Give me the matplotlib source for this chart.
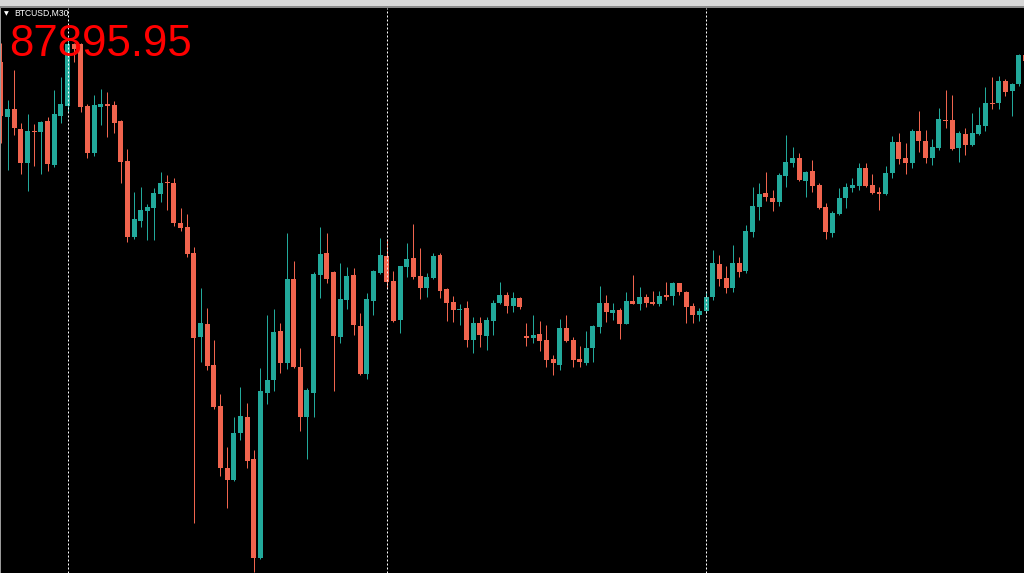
# BTCUSD M30 candlestick snapshot, MT4-style dark chart

import matplotlib
matplotlib.use("Agg")
import matplotlib.pyplot as plt
import numpy as np

# ------------ data ---------------------------------------
symbol_label = "BTCUSD,M30"
last_price = "87895.95"

opens = [87845, 87295, 87375, 87175, 86835, 87155, 87145, 87255, 86815, 87305,
         87405, 88025, 88025, 87405, 86935, 87395, 87425, 87415, 87255, 86855,
         86095, 86255, 86355, 86385, 86525, 86645, 86635, 86235, 86195, 85935,
         85095, 85225, 84815, 84405, 83785, 83665, 84135, 84295, 83875, 82885,
         84535, 84665, 85155, 84835, 85675, 84795, 84295, 84535, 85715, 85935,
         85745, 85095, 85465, 85715, 85205, 84725, 85455, 85735, 85905, 85655,
         85265, 85795, 85885, 85705, 85585, 85685, 85915, 85575, 85445, 85365,
         85385, 85065, 85235, 85105, 85255, 85435, 85515, 85405, 85485, 85105,
         85085, 85125, 85065, 84875, 84815, 85185, 85065, 84875, 84835, 84985,
         85195, 85435, 85335, 85365, 85225, 85455, 85425, 85495, 85445, 85425,
         85515, 85505, 85635, 85545, 85405, 85315, 85355, 85495, 85825, 85685,
         85585, 85835, 85755, 86145, 86395, 86535, 86485, 86445, 86705, 86835,
         86885, 86655, 86755, 86615, 86395, 86135, 86325, 86485, 86585, 86605,
         86785, 86615, 86545, 86525, 86735, 87045, 86885, 86835, 87155, 87055,
         86885, 86985, 87265, 87265, 86985, 87125, 87015, 87125, 87205, 87435,
         87435, 87655, 87555, 87625, 87915]
highs = [88035, 87465, 87765, 87235, 87325, 87225, 87255, 87295, 87565, 87695,
         88065, 88035, 88035, 87425, 87515, 87575, 87545, 87455, 87265, 86975,
         86545, 86595, 86425, 86585, 86745, 86715, 86685, 86385, 86325, 85995,
         85585, 85385, 85065, 84525, 83995, 84295, 84595, 84435, 83965, 84785,
         85315, 85375, 85235, 86135, 85855, 84985, 84585, 85745, 86195, 86135,
         85755, 85835, 85795, 85785, 85335, 85535, 85765, 86085, 86075, 85755,
         85805, 86035, 86225, 85985, 85735, 85935, 85935, 85585, 85505, 85425,
         85455, 85295, 85295, 85295, 85465, 85645, 85545, 85545, 85495, 85235,
         85315, 85255, 85215, 84915, 85275, 85315, 85095, 85005, 85155, 85215,
         85605, 85515, 85435, 85385, 85545, 85715, 85595, 85525, 85555, 85555,
         85645, 85645, 85635, 85555, 85435, 85385, 85555, 85965, 85915, 85805,
         86015, 85895, 86215, 86595, 86635, 86745, 86565, 86735, 87115, 86995,
         86935, 86755, 86865, 86635, 86435, 86355, 86585, 86635, 86685, 86835,
         86835, 86725, 86595, 86805, 87105, 87135, 87035, 87175, 87355, 87165,
         87075, 87385, 87565, 87515, 87155, 87185, 87335, 87395, 87595, 87695,
         87705, 87675, 87635, 87925, 87925]
lows = [87035, 86765, 87115, 86725, 86555, 86805, 86725, 86755, 86795, 87235,
        87345, 87845, 87345, 86885, 86905, 87215, 87095, 87135, 86635, 86045,
        86075, 86195, 86065, 86065, 86445, 86365, 86205, 86155, 85895, 83235,
        84845, 84765, 84375, 83705, 83385, 83655, 84065, 83785, 82745, 82875,
        84425, 84555, 84735, 84775, 84785, 84155, 83875, 84295, 85485, 85635,
        84555, 85035, 85375, 85115, 84715, 84675, 85315, 85725, 85585, 85245,
        85135, 85695, 85675, 85475, 85495, 85675, 85485, 85255, 85245, 85215,
        84995, 84935, 84995, 84965, 85115, 85425, 85335, 85345, 85375, 85005,
        85035, 84955, 84795, 84715, 84765, 85045, 84795, 84795, 84815, 84845,
        85135, 85245, 85265, 85075, 85225, 85425, 85365, 85395, 85415, 85405,
        85465, 85415, 85515, 85235, 85235, 85255, 85335, 85465, 85605, 85535,
        85545, 85695, 85735, 86095, 86265, 86455, 86355, 86405, 86595, 86795,
        86655, 86495, 86545, 86375, 86075, 86095, 86315, 86385, 86545, 86565,
        86595, 86525, 86365, 86515, 86685, 86825, 86725, 86785, 86945, 86835,
        86815, 86965, 87185, 86965, 86845, 86915, 87005, 87115, 87155, 87375,
        87375, 87505, 87305, 87605, 87845]
closes = [87305, 87375, 87185, 86835, 87155, 87145, 87245, 86825, 87325, 87425,
          88025, 87975, 87395, 86935, 87415, 87425, 87405, 87235, 86845, 86095,
          86275, 86365, 86395, 86535, 86635, 86635, 86235, 86185, 85925, 85085,
          85235, 84805, 84395, 83785, 83665, 84135, 84305, 83855, 82885, 84555,
          84665, 85145, 84835, 85675, 84795, 84295, 84565, 85725, 85925, 85675,
          85105, 85475, 85705, 85215, 84725, 85475, 85755, 85915, 85645, 85255,
          85805, 85875, 85695, 85585, 85695, 85905, 85555, 85435, 85365, 85375,
          85065, 85235, 85115, 85265, 85435, 85515, 85405, 85485, 85395, 85085,
          85115, 85055, 84865, 84835, 85185, 85055, 84865, 84845, 84985, 85205,
          85435, 85345, 85365, 85225, 85455, 85425, 85495, 85435, 85425, 85505,
          85495, 85635, 85545, 85395, 85315, 85355, 85495, 85835, 85675, 85585,
          85835, 85745, 86155, 86405, 86525, 86495, 86445, 86715, 86845, 86885,
          86665, 86745, 86605, 86385, 86145, 86335, 86485, 86595, 86615, 86785,
          86605, 86535, 86525, 86735, 87045, 86875, 86835, 87155, 87055, 86885,
          86995, 87275, 87255, 86975, 87135, 87015, 87135, 87215, 87435, 87425,
          87655, 87545, 87625, 87915, 87855]
day_breaks = [10, 58, 106]   # candle index of the period separators
# ----------------------------------------------------------

UP = "#22a99b"
DOWN = "#f0644e"
W, H = 1024, 573

o = np.array(opens, float)
h = np.array(highs, float)
l = np.array(lows, float)
c = np.array(closes, float)
idx = np.arange(len(o))
col = np.where(c >= o, UP, DOWN)

fig = plt.figure(figsize=(W / 100, H / 100), dpi=100, facecolor="black")

# chart area below the window strip
top_px = 8
ax = fig.add_axes([0, 0, 1, (H - top_px) / H])
ax.set_facecolor("black")
ax.set_xlim(-0.15, 153.8)
ax.set_ylim(82735, 88385)
ax.axis("off")

px = 0.72  # one pixel in points
ax.vlines(idx, l, h, colors=col, lw=px, zorder=2)
body_low = np.minimum(o, c)
body_h = np.maximum(np.abs(c - o), 10)
ax.bar(idx, body_h, bottom=body_low, width=0.75, color=col, lw=0, zorder=3)

for d in day_breaks:
    ax.axvline(d, color="white", lw=px, ls=(0, (2, 2)), zorder=4)

# window strip at the top
fig.patches.append(plt.Rectangle((0, 1 - 6 / H), 1, 6 / H, transform=fig.transFigure,
                                 facecolor="#d8d8d8", edgecolor="none"))
fig.patches.append(plt.Rectangle((0, 1 - 8 / H), 1, 2 / H, transform=fig.transFigure,
                                 facecolor="#8a8a8a", edgecolor="none"))
fig.patches.append(plt.Rectangle((0, 0), 1 / W, 1 - 8 / H, transform=fig.transFigure,
                                 facecolor="#9a9a9a", edgecolor="none"))

# labels
fig.text(4 / W, 1 - 13.5 / H, "\u25bc", color="white", fontsize=4.5, va="center",
         family="DejaVu Sans")
fig.text(14 / W, 1 - 13.5 / H, symbol_label, color="white", fontsize=6.2, va="center",
         family="Liberation Sans")
fig.text(9 / W, 1 - 56 / H, last_price, color="#ff0000", fontsize=31.5, va="baseline",
         family="Liberation Sans")

fig.savefig("out.png", dpi=100, facecolor="black")
